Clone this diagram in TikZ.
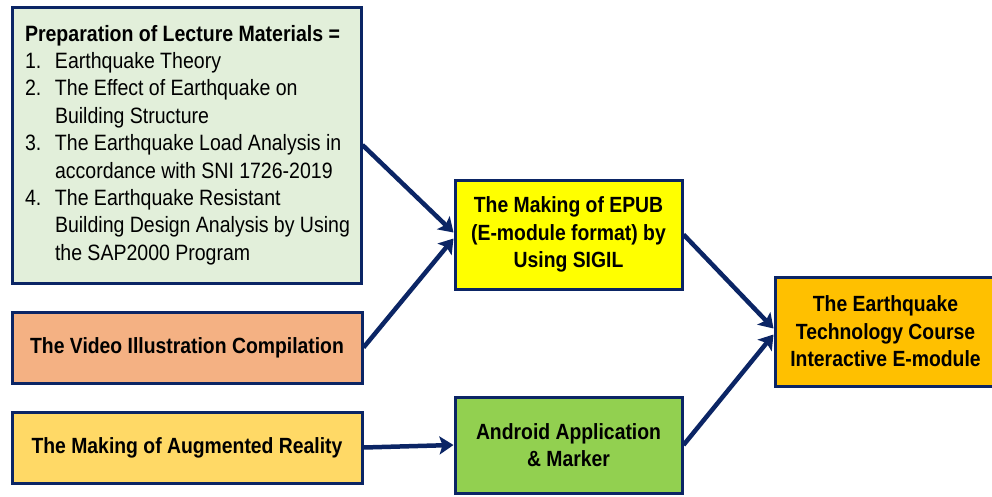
\documentclass[tikz,border=0pt]{standalone}
\usepackage{fontspec}
\setmainfont{Liberation Sans}[FakeStretch=0.88]
\usetikzlibrary{arrows.meta}
\definecolor{navy}{HTML}{0B2565}
\definecolor{lecfill}{HTML}{E2EFDA}
\definecolor{vidfill}{HTML}{F4B183}
\definecolor{arfill}{HTML}{FFD966}
\definecolor{epubfill}{HTML}{FFFF00}
\definecolor{andfill}{HTML}{92D050}
\definecolor{finfill}{HTML}{FFC000}
\newcommand{\itm}[1]{\makebox[30pt][l]{#1}}
\newcommand{\lecsetup}{\spaceskip=0.24em\relax\hyphenpenalty=10000\relax}
\begin{document}
\begin{tikzpicture}[x=1pt,y=-1pt,
  box/.style={draw=navy, line width=3pt, inner sep=0pt, align=center,
    font=\fontsize{22}{27.5}\selectfont\bfseries},
  lecbox/.style={draw=navy, line width=3pt, inner xsep=13pt, inner ysep=0pt,
    align=left, text width=323pt, fill=lecfill,
    font=\fontsize{22.2}{27.4}\selectfont},
  arr/.style={navy, line width=4.5pt, -{Stealth[length=14pt,width=18pt,inset=3pt]}}]
\useasboundingbox (0,0) rectangle (992,496);
\fill[white] (0,0) rectangle (992,496);

\node[lecbox, minimum width=349pt, minimum height=276pt] (lec) at (186.5,145)
 {\lecsetup{\bfseries Preparation of Lecture Materials =}\\
  \itm{1.}Earthquake Theory\\
  \itm{2.}The Effect of Earthquake on\\
  \itm{}Building Structure\\
  \mbox{\itm{3.}The Earthquake Load Analysis in}\\
  \itm{}accordance with SNI 1726-2019\\
  \itm{4.}The Earthquake Resistant\\
  \mbox{\itm{}Building Design Analysis by Using}\\
  \itm{}the SAP2000 Program};

\node[box, fill=vidfill, minimum width=350pt, minimum height=71pt] (vid) at (187,347.5)
 {The Video Illustration Compilation};
\node[box, fill=arfill, minimum width=350pt, minimum height=71pt] (ar) at (187,447.5)
 {The Making of Augmented Reality};
\node[box, fill=epubfill, minimum width=227pt, minimum height=109pt] (epub) at (568.5,234.5)
 {The Making of EPUB\\(E-module format) by\\Using SIGIL};
\node[box, fill=andfill, minimum width=227pt, minimum height=96pt] (and) at (568.5,445)
 {Android Application\\\& Marker};
\node[box, fill=finfill, minimum width=221pt, minimum height=109pt] (fin) at (885.5,331.5)
 {The Earthquake\\Technology Course\\Interactive E-module};

\draw[arr] (lec.east) -- ([yshift=2pt]epub.west);
\draw[arr] (vid.east) -- ([yshift=-4pt]epub.west);
\draw[arr] (ar.east) -- (and.west);
\draw[arr] (epub.east) -- ([yshift=3pt]fin.west);
\draw[arr] (and.east) -- ([yshift=-3pt]fin.west);
\end{tikzpicture}
\end{document}
